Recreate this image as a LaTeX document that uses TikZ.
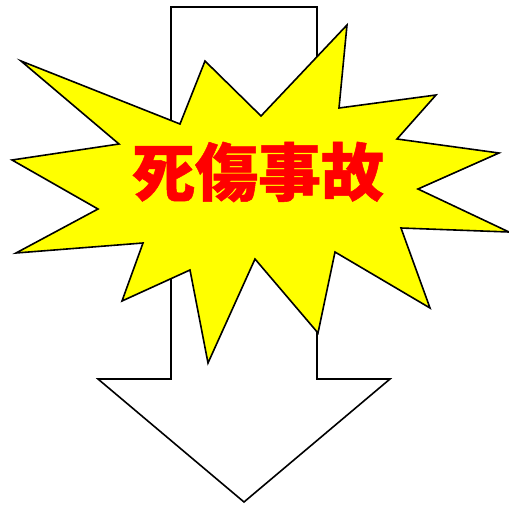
\documentclass[tikz,border=0pt]{standalone}
\usepackage{fontspec}
\newfontfamily\cjk{Noto Sans CJK JP}[BoldFeatures={FakeBold=0.8}]
\definecolor{burstyellow}{RGB}{255,255,0}
\definecolor{textred}{RGB}{255,0,0}
\tikzset{
  outline/.style={draw=black, line width=1.6pt, line join=miter},
  bursttext/.style={text=textred, font=\cjk\bfseries\fontsize{63}{63}\selectfont, inner sep=0pt}
}
\begin{document}
\begin{tikzpicture}[x=1pt,y=-1pt]
\useasboundingbox (0,0) rectangle (509,504);
% down arrow
\draw[outline, fill=white] (171,7) -- (317,7) -- (317,379) -- (390,379) -- (244,502) -- (98,379) -- (171,379) -- cycle;
% starburst
\draw[outline, fill=burstyellow]
  (21,61) -- (180,124) -- (205,61) -- (261,116) -- (347,25) -- (339,108)
  -- (436,95) -- (397,139) -- (499,153) -- (418,189) -- (509,232) -- (401,228)
  -- (430,308) -- (335,252) -- (318,333) -- (255,259) -- (208,363) -- (190,270)
  -- (122,301) -- (143,243) -- (16,253) -- (98,209) -- (12,160) -- (119,144) -- cycle;
\node[bursttext] (t) at (258,172) {死傷事故};
\end{tikzpicture}
\end{document}
